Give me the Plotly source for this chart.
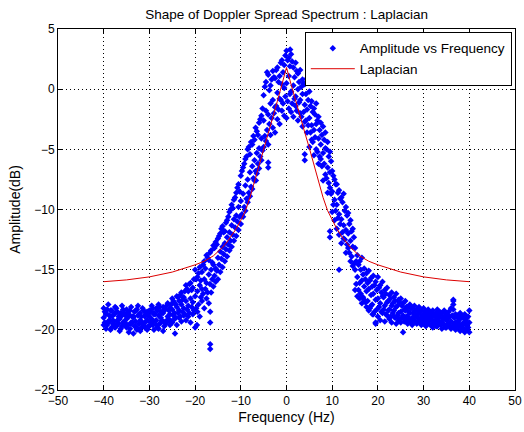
import plotly.graph_objects as go

# --- Scatter data: frequency grids (Hz) and passes of measured amplitude (dB) ---
freq = [
    -40.0, -39.5, -39.0, -38.5, -38.0, -37.5, -37.0, -36.5, -36.0, -35.5,
    -35.0, -34.5, -34.0, -33.5, -33.0, -32.5, -32.0, -31.5, -31.0, -30.5,
    -30.0, -29.5, -29.0, -28.5, -28.0, -27.5, -27.0, -26.5, -26.0, -25.5,
    -25.0, -24.5, -24.0, -23.5, -23.0, -22.5, -22.0, -21.5, -21.0, -20.5,
    -20.0, -19.5, -19.0, -18.5, -18.0, -17.5, -17.0, -16.5, -16.0, -15.5,
    -15.0, -14.5, -14.0, -13.5, -13.0, -12.5, -12.0, -11.5, -11.0, -10.5,
    -10.0, -9.5, -9.0, -8.5, -8.0, -7.5, -7.0, -6.5, -6.0, -5.5,
    -5.0, -4.5, -4.0, -3.5, -3.0, -2.5, -2.0, -1.5, -1.0, -0.5,
    0.0, 0.5, 1.0, 1.5, 2.0, 2.5, 3.0, 3.5, 4.0, 4.5,
    5.0, 5.5, 6.0, 6.5, 7.0, 7.5, 8.0, 8.5, 9.0, 9.5,
    10.0, 10.5, 11.0, 11.5, 12.0, 12.5, 13.0, 13.5, 14.0, 14.5,
    15.0, 15.5, 16.0, 16.5, 17.0, 17.5, 18.0, 18.5, 19.0, 19.5,
    20.0, 20.5, 21.0, 21.5, 22.0, 22.5, 23.0, 23.5, 24.0, 24.5,
    25.0, 25.5, 26.0, 26.5, 27.0, 27.5, 28.0, 28.5, 29.0, 29.5,
    30.0, 30.5, 31.0, 31.5, 32.0, 32.5, 33.0, 33.5, 34.0, 34.5,
    35.0, 35.5, 36.0, 36.5, 37.0, 37.5, 38.0, 38.5, 39.0, 39.5, 40.0,
]

amp_upper = [
    -18.2, -18.6, -17.9, -18.4, -18.8, -18.1, -18.5, -18.9, -18.0, -18.6,
    -18.3, -18.7, -18.1, -18.9, -18.4, -18.0, -18.6, -18.2, -18.8, -18.5,
    -18.4, -18.0, -18.6, -18.2, -17.9, -18.5, -18.1, -18.3, -17.8, -18.2,
    -17.4, -17.8, -17.2, -17.6, -16.9, -17.3, -16.3, -16.8, -16.1, -16.5,
    -15.0, -15.6, -14.8, -15.2, -14.3, -13.8, -14.2, -13.4, -13.0, -12.7,
    -12.4, -12.0, -11.4, -11.8, -10.9, -10.2, -9.6, -9.2, -8.6, -7.9,
    -7.2, -6.5, -5.8, -5.0, -5.4, -4.6, -4.2, -3.5, -2.8, -2.2,
    -0.5, 0.6, 1.2, 0.3, 1.5, 0.9, 1.8, 1.1, 2.4, 2.0,
    3.2, 2.6, 2.9, 1.8, 2.2, 1.3, 1.6, 0.8, 0.4, 0.9,
    -0.2, -1.0, -1.6, -1.2, -2.3, -2.8, -3.1, -3.6, -4.4, -5.2,
    -6.8, -7.5, -7.9, -8.4, -9.0, -8.7, -9.8, -10.3, -10.9, -11.6,
    -13.2, -13.8, -14.3, -14.0, -14.9, -15.3, -15.1, -15.7, -15.5, -16.0,
    -15.6, -16.3, -16.0, -16.7, -16.5, -17.1, -16.9, -17.3, -17.0, -17.5,
    -17.4, -17.8, -17.6, -18.1, -17.9, -18.2, -18.0, -18.3, -18.1, -18.4,
    -18.2, -18.5, -18.3, -18.6, -18.4, -18.7, -18.3, -18.5, -18.6, -18.4,
    -18.6, -18.5, -18.2, -17.6, -18.7, -18.8, -18.6, -18.9, -18.7, -19.0, -18.4,
]

amp_lower = [
    -19.6, -19.9, -19.3, -20.0, -19.5, -19.8, -19.2, -20.1, -19.7, -19.4,
    -19.8, -20.2, -19.5, -20.3, -19.7, -19.9, -20.1, -19.4, -19.8, -20.0,
    -19.7, -19.3, -20.0, -19.6, -19.9, -19.4, -20.1, -19.5, -19.2, -19.6,
    -19.4, -19.1, -19.6, -19.0, -19.3, -18.8, -19.2, -18.9, -19.4, -18.7,
    -19.8, -18.5, -18.9, -17.6, -18.2, -17.4, -17.8, -16.9, -16.4, -16.0,
    -15.8, -15.2, -14.8, -14.3, -13.9, -13.4, -13.1, -12.6, -12.2, -11.7,
    -11.2, -10.6, -10.1, -9.4, -8.9, -8.3, -7.6, -7.0, -6.6, -5.9,
    -4.8, -4.3, -4.6, -3.8, -3.2, -3.6, -2.5, -2.9, -1.8, -2.2,
    -2.4, -1.6, -1.9, -2.3, -1.4, -2.6, -2.0, -3.1, -2.7, -3.6,
    -4.8, -4.2, -5.5, -5.0, -6.2, -5.8, -7.6, -7.1, -8.6, -8.2,
    -10.2, -10.9, -11.6, -12.1, -12.8, -12.4, -13.6, -13.2, -14.3, -14.7,
    -16.7, -17.2, -17.4, -17.8, -17.5, -18.1, -18.4, -18.0, -18.7, -19.4,
    -18.9, -19.2, -18.6, -19.3, -18.8, -19.1, -19.4, -18.9, -19.5, -19.2,
    -19.4, -20.2, -19.1, -19.5, -19.2, -19.6, -19.3, -19.5, -19.2, -19.6,
    -19.5, -19.7, -19.3, -19.6, -19.8, -19.4, -19.7, -19.5, -19.9, -19.6,
    -19.8, -19.6, -19.9, -19.7, -20.0, -19.8, -20.1, -19.9, -20.2, -20.0, -20.2,
]

amp_middle = [
    -19.0, -18.7, -19.4, -18.9, -19.2, -18.6, -19.5, -19.1, -18.8, -19.3,
    -19.1, -18.9, -19.4, -19.0, -19.3, -18.8, -19.2, -19.5, -18.9, -19.2,
    -18.9, -19.1, -18.7, -19.2, -18.8, -19.0, -18.6, -19.3, -18.9, -18.7,
    -18.3, -18.6, -18.1, -18.4, -17.9, -18.2, -17.6, -18.0, -17.4, -17.7,
    -17.2, -16.8, -16.3, -16.6, -15.8, -16.1, -15.4, -15.0, -14.6, -14.9,
    -14.0, -13.5, -13.1, -12.8, -12.3, -11.9, -11.3, -10.8, -10.5, -9.8,
    -9.3, -8.7, -8.0, -7.5, -6.9, -6.4, -5.9, -5.3, -4.9, -4.1,
    -2.6, -1.8, -2.1, -1.2, -0.9, -1.5, -0.3, -0.8, 0.4, 0.1,
    0.5, 1.1, -0.2, 0.3, -0.6, 0.0, -0.9, -0.4, -1.3, -1.7,
    -2.4, -3.0, -3.4, -2.9, -4.1, -4.6, -5.3, -4.9, -6.5, -6.9,
    -8.5, -9.2, -9.6, -10.4, -10.8, -11.3, -11.7, -12.0, -12.6, -13.1,
    -15.0, -15.6, -16.1, -15.9, -16.4, -16.8, -16.6, -17.1, -17.0, -17.5,
    -17.4, -17.8, -17.2, -18.0, -17.7, -18.3, -18.0, -18.4, -18.1, -18.6,
    -18.5, -18.8, -18.4, -18.9, -18.6, -19.0, -18.7, -18.9, -18.6, -19.0,
    -18.9, -19.1, -18.8, -19.0, -19.2, -18.9, -19.1, -19.0, -19.3, -19.0,
    -19.2, -19.0, -19.3, -18.9, -19.4, -19.3, -19.1, -19.5, -19.3, -19.6, -19.4,
]

# second grid between the first one
freq_q = [
    -39.75, -39.25, -38.75, -38.25, -37.75, -37.25, -36.75, -36.25, -35.75, -35.25,
    -34.75, -34.25, -33.75, -33.25, -32.75, -32.25, -31.75, -31.25, -30.75, -30.25,
    -29.75, -29.25, -28.75, -28.25, -27.75, -27.25, -26.75, -26.25, -25.75, -25.25,
    -24.75, -24.25, -23.75, -23.25, -22.75, -22.25, -21.75, -21.25, -20.75, -20.25,
    -19.75, -19.25, -18.75, -18.25, -17.75, -17.25, -16.75, -16.25, -15.75, -15.25,
    -14.75, -14.25, -13.75, -13.25, -12.75, -12.25, -11.75, -11.25, -10.75, -10.25,
    -9.75, -9.25, -8.75, -8.25, -7.75, -7.25, -6.75, -6.25, -5.75, -5.25,
    -4.75, -4.25, -3.75, -3.25, -2.75, -2.25, -1.75, -1.25, -0.75, -0.25,
    0.25, 0.75, 1.25, 1.75, 2.25, 2.75, 3.25, 3.75, 4.25, 4.75,
    5.25, 5.75, 6.25, 6.75, 7.25, 7.75, 8.25, 8.75, 9.25, 9.75,
    10.25, 10.75, 11.25, 11.75, 12.25, 12.75, 13.25, 13.75, 14.25, 14.75,
    15.25, 15.75, 16.25, 16.75, 17.25, 17.75, 18.25, 18.75, 19.25, 19.75,
    20.25, 20.75, 21.25, 21.75, 22.25, 22.75, 23.25, 23.75, 24.25, 24.75,
    25.25, 25.75, 26.25, 26.75, 27.25, 27.75, 28.25, 28.75, 29.25, 29.75,
    30.25, 30.75, 31.25, 31.75, 32.25, 32.75, 33.25, 33.75, 34.25, 34.75,
    35.25, 35.75, 36.25, 36.75, 37.25, 37.75, 38.25, 38.75, 39.25, 39.75,
]

amp_q_high = [
    -18.5, -18.3, -18.8, -18.4, -18.7, -18.2, -18.9, -18.6, -18.3, -18.8,
    -18.6, -18.4, -18.9, -18.5, -18.3, -18.7, -18.9, -18.4, -18.6, -18.8,
    -18.5, -18.2, -18.7, -18.4, -18.1, -18.6, -18.3, -18.0, -18.4, -17.9,
    -17.6, -17.9, -17.3, -17.1, -17.5, -16.8, -16.6, -16.2, -16.7, -15.8,
    -15.8, -15.3, -15.9, -14.6, -14.9, -14.0, -13.6, -14.4, -13.2, -12.9,
    -12.2, -11.6, -11.9, -11.1, -10.6, -10.0, -9.9, -9.0, -8.2, -8.5,
    -6.8, -6.2, -5.6, -4.8, -4.4, -3.9, -3.2, -3.8, -2.5, -1.6,
    0.2, 1.4, -0.1, 0.8, 1.0, 1.6, 0.6, 2.2, 1.4, 2.8,
    2.4, 1.9, 2.3, 1.0, 1.5, 0.6, 0.2, 0.5, -0.4, -0.9,
    -1.4, -1.9, -2.1, -2.6, -3.4, -3.8, -4.2, -5.0, -5.6, -6.0,
    -7.2, -7.9, -8.6, -9.1, -9.4, -10.1, -10.5, -11.2, -11.8, -12.3,
    -14.3, -14.6, -15.0, -15.4, -15.8, -16.1, -15.9, -16.4, -16.3, -16.7,
    -16.5, -16.9, -17.3, -17.0, -17.6, -17.4, -17.8, -17.6, -18.0, -17.7,
    -18.0, -18.3, -18.1, -18.5, -18.2, -18.6, -18.4, -18.7, -18.5, -18.8,
    -18.6, -18.8, -18.5, -18.9, -18.7, -18.6, -18.9, -18.7, -19.0, -18.8,
    -18.8, -18.9, -18.8, -19.0, -18.9, -19.1, -18.8, -19.0, -19.2, -18.9,
]

amp_q_low = [
    -19.4, -19.6, -19.2, -19.8, -19.3, -19.7, -19.5, -19.9, -19.4, -19.6,
    -19.6, -19.9, -19.4, -19.7, -20.0, -19.5, -19.8, -19.6, -19.3, -19.7,
    -19.4, -19.6, -19.3, -19.8, -19.5, -19.2, -19.7, -19.4, -19.1, -19.3,
    -18.8, -19.0, -18.6, -18.9, -18.5, -18.7, -18.3, -18.6, -18.1, -18.4,
    -18.2, -17.9, -17.3, -17.0, -16.6, -16.9, -16.2, -15.8, -15.5, -15.1,
    -14.6, -14.1, -13.7, -13.3, -12.9, -12.6, -12.1, -11.5, -11.0, -10.6,
    -10.4, -9.8, -9.1, -8.6, -8.1, -7.4, -6.8, -6.2, -5.6, -5.1,
    -3.9, -3.4, -2.9, -2.4, -2.0, -1.4, -1.7, -0.9, -1.2, -0.6,
    -1.0, -0.4, -1.2, -0.8, -1.8, -1.1, -2.3, -1.9, -2.6, -3.0,
    -3.6, -4.4, -4.0, -5.2, -5.6, -6.4, -6.2, -7.4, -7.8, -8.7,
    -9.6, -10.1, -10.7, -11.2, -11.9, -12.5, -12.9, -13.6, -13.9, -14.5,
    -16.2, -16.7, -17.0, -17.3, -17.7, -17.6, -18.2, -17.9, -18.5, -18.3,
    -18.1, -18.5, -18.3, -18.7, -18.4, -18.9, -18.6, -19.0, -18.8, -19.1,
    -19.0, -19.3, -18.9, -19.2, -19.4, -19.1, -19.3, -19.0, -19.4, -19.2,
    -19.3, -19.5, -19.2, -19.6, -19.4, -19.7, -19.3, -19.6, -19.5, -19.8,
    -19.5, -19.7, -19.4, -19.6, -19.8, -19.5, -19.7, -19.9, -19.6, -19.8,
]

# isolated points off the main band
extra_freq = [-24.4, -19.6, -16.7, -16.7, -16.7, -16.7, -6.7, -4.0, -4.0, 0.8,
              4.0, 4.0, 9.5, 9.5, 11.5, 18.8, 19.5, 36.5, 36.5, 36.5]
extra_amp = [-20.3, -19.6, -18.5, -19.4, -21.2, -21.6, -7.6, -6.1, -6.5, 3.3,
             -5.4, -5.9, -11.8, -12.3, -15.0, -18.7, -19.5, -17.5, -17.9, -18.3]

# --- Laplacian fit curve ---
lap_freq = [-40, -35, -30, -25, -20, -18, -16, -15, -14, -13, -12, -11, -10, -9, -8,
            -7, -6, -5, -4, -3, -2, -1, 0, 1, 2, 3, 4, 5, 6, 7, 8, 9, 10, 11, 12,
            13, 14, 15, 16, 18, 20, 25, 30, 35, 40]
lap_amp = [-16.0, -15.85, -15.6, -15.2, -14.6, -14.3, -13.85, -13.5, -13.15, -12.7,
           -12.2, -11.6, -10.9, -10.1, -9.0, -7.7, -6.3, -4.9, -3.6, -2.3, -1.0, 0.4,
           1.8, 0.4, -1.0, -2.3, -3.6, -4.9, -6.3, -7.7, -9.0, -10.1, -10.9, -11.6,
           -12.2, -12.7, -13.15, -13.5, -13.85, -14.3, -14.6, -15.2, -15.6, -15.85, -16.0]

x_ticks = [-50, -40, -30, -20, -10, 0, 10, 20, 30, 40, 50]
y_ticks = [-25, -20, -15, -10, -5, 0, 5]

FONT = "Liberation Sans, Arial, sans-serif"

fig = go.Figure()
fig.add_trace(go.Scatter(
    x=freq * 3 + freq_q * 2 + extra_freq,
    y=amp_upper + amp_lower + amp_middle + amp_q_high + amp_q_low + extra_amp,
    mode="markers",
    name="Amplitude vs Frequency",
    marker=dict(symbol="diamond", size=5, color="#0000ff", line=dict(width=0)),
))
fig.add_trace(go.Scatter(
    x=lap_freq, y=lap_amp, mode="lines", name="Laplacian",
    line=dict(color="#dd0000", width=1),
))

axis_style = dict(
    showline=True, linecolor="black", linewidth=1, mirror="ticks",
    ticks="inside", ticklen=5, tickcolor="black",
    showgrid=True, gridcolor="black", gridwidth=1, griddash="1px,3px",
    zeroline=False, automargin=False,
    tickfont=dict(family=FONT, size=12, color="black"),
)

fig.update_layout(
    width=524, height=432,
    margin=dict(l=58, r=9, t=29, b=42),
    paper_bgcolor="white", plot_bgcolor="white",
    font=dict(family=FONT, size=12, color="black"),
    title=dict(text="Shape of Doppler Spread Spectrum : Laplacian",
               x=0.547, xanchor="center", y=0.968, yanchor="middle",
               font=dict(family=FONT, size=13.5, color="black")),
    showlegend=True,
    legend=dict(x=0.993, y=0.992, xanchor="right", yanchor="top",
                bgcolor="white", bordercolor="black", borderwidth=1,
                font=dict(family=FONT, size=13.5, color="black"),
                itemwidth=44, tracegroupgap=0),
)
fig.update_xaxes(range=[-50, 50], tickvals=x_ticks, title=dict(text="Frequency (Hz)", standoff=4),
                 **axis_style)
fig.update_yaxes(range=[-25, 5], tickvals=y_ticks, title=dict(text="Amplitude(dB)", standoff=10),
                 **axis_style)

# page body has a default 8px margin; drop it so the chart sits at the window corner
fig.write_html("out.html", config={"displayModeBar": False},
               post_script="document.body.style.margin='0px';")
